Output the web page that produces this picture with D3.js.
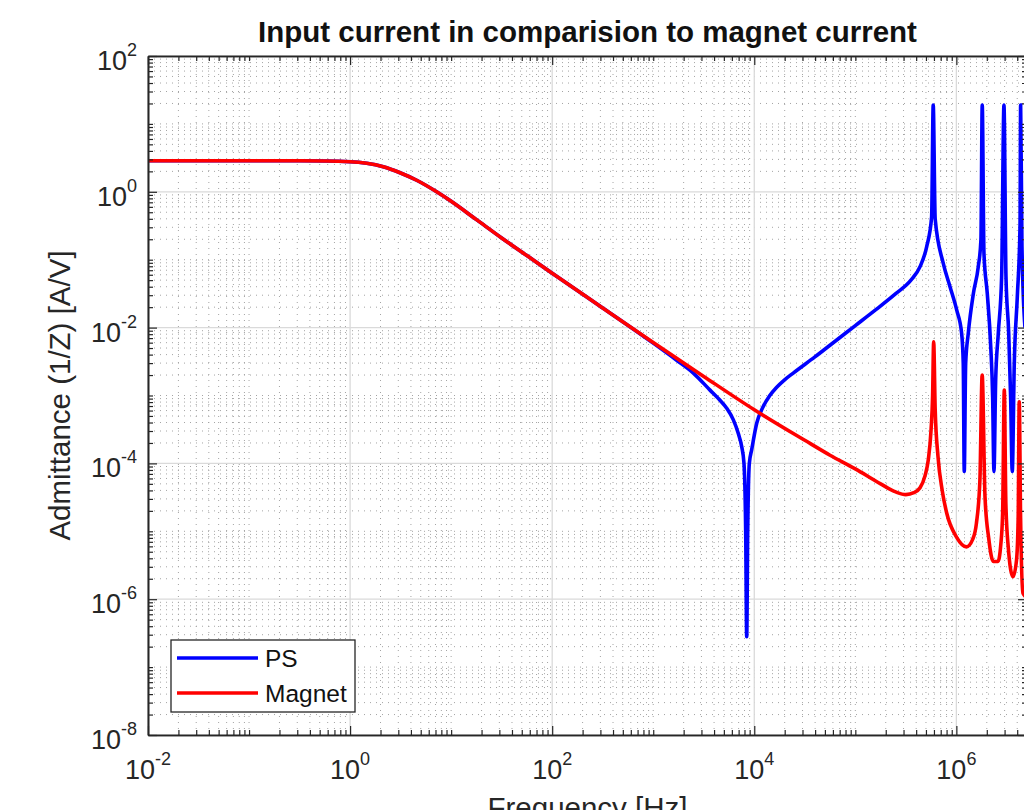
<!DOCTYPE html>
<html>
<head>
<meta charset="utf-8">
<script src="https://cdn.jsdelivr.net/npm/d3@7"></script>
<style>
  html, body { margin: 0; padding: 0; background: #fff; overflow: hidden; }
  svg { display: block; font-family: "Liberation Sans", Arial, Helvetica, sans-serif; }
</style>
</head>
<body>
<svg id="chart"></svg>
<script>
// --- data ---
const magFreq = [0.01, 0.1, 0.316, 1, 1.46, 2.13, 3.12, 4.56, 7.19, 10, 17.8, 31.6, 56.2, 100, 316, 1000, 3162, 1e4, 3.16e4, 5.62e4,
                 1e5, 1.78e5, 2.51e5, 3.16e5, 3.8e5, 4.37e5, 4.9e5, 5.27e5, 5.62e5, 5.82e5, 5.96e5, 6.17e5, 6.58e5, 7.24e5, 8.02e5,
                 1.0e6, 1.26e6, 1.45e6, 1.58e6, 1.71e6, 1.80e6, 1.92e6, 2.09e6, 2.32e6, 2.58e6, 2.75e6, 2.87e6, 2.98e6, 3.09e6,
                 3.26e6, 3.63e6, 3.94e6, 4.09e6, 4.19e6, 4.32e6, 4.56e6, 5.25e6];
const magAdm  = [2.87, 2.87, 2.86, 2.77, 2.63, 2.34, 1.91, 1.48, 1.0, 0.724, 0.389, 0.209, 0.115, 0.063, 0.0195, 6.03e-3, 1.91e-3, 6.17e-4, 2.19e-4, 1.32e-4,
                 8.3e-5, 5.0e-5, 3.8e-5, 3.47e-5, 3.7e-5, 4.37e-5, 6.6e-5, 1.12e-4, 3.16e-4, 1.0e-3, 6.2e-3, 6.3e-4, 1.26e-4, 4.0e-5, 1.86e-5,
                 8.3e-6, 5.9e-6, 7.6e-6, 1.32e-5, 5.75e-5, 2.0e-3, 3.24e-5, 7.9e-6, 3.6e-6, 3.6e-6, 6.3e-6, 1.86e-5, 1.2e-3, 2.5e-5,
                 5.9e-6, 2.14e-6, 3.8e-6, 1.58e-5, 8.1e-4, 1.58e-5, 1.23e-6, 1.0e-6];

const psFreq = [0.01, 0.1, 0.316, 1, 1.46, 2.13, 3.12, 4.56, 7.19, 10, 17.8, 31.6, 56.2, 100, 316, 1000, 1706, 2495, 3648,
                4581, 5333, 6209, 6950, 7499, 7907, 8222, 8414, 8610, 8933, 9419, 1.057e4, 1.227e4, 1.413e4, 1.667e4, 1.995e4, 2.43e4,
                3.98e4, 6.31e4, 1e5, 1.585e5, 2.51e5, 3.55e5, 4.37e5, 5.08e5, 5.69e5, 5.9e5, 6.17e5, 7.41e5, 8.65e5,
                1.007e6, 1.127e6, 1.17e6, 1.197e6, 1.236e6, 1.312e6, 1.472e6, 1.648e6, 1.75e6, 1.803e6, 1.875e6,
                2.023e6, 2.188e6, 2.286e6, 2.355e6, 2.449e6, 2.6e6, 2.805e6, 2.958e6, 3.097e6, 3.296e6, 3.443e6,
                3.573e6, 3.741e6, 4.009e6, 4.266e6, 4.325e6, 4.457e6, 4.775e6];
const psAdm  = [2.87, 2.87, 2.86, 2.77, 2.63, 2.34, 1.91, 1.48, 1.0, 0.724, 0.389, 0.209, 0.115, 0.063, 0.0195, 5.9e-3, 3.3e-3, 2.14e-3, 1.2e-3,
                8.5e-4, 6.5e-4, 4.37e-4, 2.75e-4, 1.78e-4, 1.0e-4, 1.0e-5, 2.8e-7, 1.0e-5, 1.0e-4, 1.58e-4, 3.9e-4, 6.9e-4, 9.8e-4, 1.32e-3, 1.7e-3, 2.14e-3,
                3.7e-3, 6.3e-3, 0.0107, 0.0182, 0.0316, 0.050, 0.079, 0.155, 0.427, 19, 0.40, 0.089, 0.040,
                0.0182, 8.3e-3, 2.95e-3, 7.6e-5, 2.95e-3, 8.3e-3, 0.0316, 0.079, 0.195, 19, 0.124,
                0.0316, 5.25e-3, 9.5e-4, 7.6e-5, 1.7e-3, 8.3e-3, 0.056, 19, 0.056, 8.3e-3, 9.5e-4,
                7.6e-5, 2.95e-3, 0.0285, 0.316, 19, 0.158, 0.01];

const seriesNames  = ["PS", "Magnet"];
const seriesColors = ["#0000ff", "#ff0000"];

const xTickExp = [-2, 0, 2, 4, 6];
const yTickExp = [-8, -6, -4, -2, 0, 2];

// --- layout ---
const W = 1024, H = 810;
const margin = {left: 148, top: 56};
const width = 879, height = 679;

const svg = d3.select("#chart").attr("width", W).attr("height", H);

const x = d3.scaleLog().domain([1e-2, 5e6]).range([0, width]);
const y = d3.scaleLog().domain([1e-8, 1e2]).range([height, 0]);

const xMajor = xTickExp.map(e => Math.pow(10, e));
const yMajor = yTickExp.map(e => Math.pow(10, e));

function minorTicks(scale, majors) {
  const [lo, hi] = scale.domain();
  const out = [];
  for (let e = Math.floor(Math.log10(lo)); e <= Math.ceil(Math.log10(hi)); e++) {
    for (let k = 1; k <= 9; k++) {
      const v = +(k + "e" + e);
      if (v < lo * 0.999 || v > hi * 1.001) continue;
      if (majors.some(m => Math.abs(m - v) / v < 1e-9)) continue;
      out.push(v);
    }
  }
  return out;
}
const xMinor = minorTicks(x, xMajor);
const yMinor = minorTicks(y, yMajor);

const chart = svg.append("g").attr("transform", `translate(${margin.left},${margin.top})`);

chart.append("defs").append("clipPath").attr("id", "clip")
  .append("rect").attr("width", width).attr("height", height);

chart.append("rect").attr("width", width).attr("height", height).attr("fill", "#fff");

// minor grid (dotted)
const grid = chart.append("g");
grid.selectAll(".vmin").data(xMinor).join("line")
  .attr("x1", d => x(d)).attr("x2", d => x(d)).attr("y1", 0).attr("y2", height)
  .attr("stroke", "#a4a4a4").attr("stroke-width", 1).attr("stroke-dasharray", "1,5");
grid.selectAll(".hmin").data(yMinor).join("line")
  .attr("y1", d => y(d)).attr("y2", d => y(d)).attr("x1", 0).attr("x2", width)
  .attr("stroke", "#a4a4a4").attr("stroke-width", 1).attr("stroke-dasharray", "1,5");

// major grid (solid light)
grid.selectAll(".vmaj").data(xMajor).join("line")
  .attr("x1", d => x(d)).attr("x2", d => x(d)).attr("y1", 0).attr("y2", height)
  .attr("stroke", "#dadada").attr("stroke-width", 1.3);
grid.selectAll(".hmaj").data(yMajor).join("line")
  .attr("y1", d => y(d)).attr("y2", d => y(d)).attr("x1", 0).attr("x2", width)
  .attr("stroke", "#dadada").attr("stroke-width", 1.3);

// curves
const line = d3.line()
  .x(d => x(d[0]))
  .y(d => y(d[1]))
  .curve(d3.curveMonotoneX);

const plot = chart.append("g").attr("clip-path", "url(#clip)");
plot.append("path").datum(d3.zip(psFreq, psAdm))
  .attr("d", line).attr("fill", "none")
  .attr("stroke", seriesColors[0]).attr("stroke-width", 3.6);
plot.append("path").datum(d3.zip(magFreq, magAdm))
  .attr("d", line).attr("fill", "none")
  .attr("stroke", seriesColors[1]).attr("stroke-width", 3.6);

// axes with inward ticks on all four sides
const axisColor = "#262626";
function styleAxis(g) {
  g.select(".domain").attr("stroke", axisColor).attr("stroke-width", 1.6);
  g.selectAll(".tick line").attr("stroke", axisColor).attr("stroke-width", 1.2);
  g.selectAll(".tick text").remove();
}
const axes = [
  [d3.axisBottom, x, `translate(0,${height})`],
  [d3.axisTop, x, `translate(0,0)`],
  [d3.axisLeft, y, `translate(0,0)`],
  [d3.axisRight, y, `translate(${width},0)`]
];
axes.forEach(([ax, sc, tr]) => {
  const majors = sc === x ? xMajor : yMajor;
  const minors = sc === x ? xMinor : yMinor;
  chart.append("g").attr("transform", tr)
    .call(ax(sc).tickValues(minors).tickSizeInner(-5).tickSizeOuter(0).tickFormat(""))
    .call(styleAxis);
  chart.append("g").attr("transform", tr)
    .call(ax(sc).tickValues(majors).tickSizeInner(-9).tickSizeOuter(0).tickFormat(""))
    .call(styleAxis);
});

// tick labels as 10^n
const tickFont = 27, supFont = 18;
chart.append("g").selectAll("text").data(xTickExp).join("text")
  .attr("x", d => x(Math.pow(10, d)))
  .attr("y", height + 44)
  .attr("text-anchor", "middle")
  .attr("fill", axisColor)
  .attr("font-size", tickFont)
  .each(function(d) {
    const t = d3.select(this);
    t.append("tspan").text("10");
    t.append("tspan").attr("dy", -14).attr("font-size", supFont).text(d);
  });

chart.append("g").selectAll("text").data(yTickExp).join("text")
  .attr("x", -11)
  .attr("y", d => y(Math.pow(10, d)) + 14)
  .attr("text-anchor", "end")
  .attr("fill", axisColor)
  .attr("font-size", tickFont)
  .each(function(d) {
    const t = d3.select(this);
    t.append("tspan").text("10");
    t.append("tspan").attr("dy", -14).attr("font-size", supFont).text(d);
  });

// title and axis labels
svg.append("text")
  .attr("x", margin.left + width / 2).attr("y", 42)
  .attr("text-anchor", "middle")
  .attr("font-size", 29.5).attr("font-weight", "bold").attr("fill", "#111")
  .text("Input current in comparision to magnet current");

svg.append("text")
  .attr("x", margin.left + width / 2).attr("y", 818)
  .attr("text-anchor", "middle")
  .attr("font-size", 29.5).attr("fill", axisColor)
  .text("Frequency [Hz]");

svg.append("text")
  .attr("transform", `translate(70,${margin.top + height / 2}) rotate(-90)`)
  .attr("text-anchor", "middle")
  .attr("font-size", 29.5).attr("fill", axisColor)
  .text("Admittance (1/Z) [A/V]");

// legend
const legend = svg.append("g").attr("transform", "translate(171,640)");
legend.append("rect")
  .attr("width", 184).attr("height", 72)
  .attr("fill", "#fff").attr("stroke", axisColor).attr("stroke-width", 1.3);
const item = legend.selectAll(".item").data(seriesNames).join("g")
  .attr("transform", (d, i) => `translate(0,${18 + i * 35})`);
item.append("line")
  .attr("x1", 6).attr("x2", 87)
  .attr("stroke", (d, i) => seriesColors[i]).attr("stroke-width", 3.6);
item.append("text")
  .attr("x", 94).attr("y", 9)
  .attr("font-size", 24.5).attr("fill", "#111")
  .text(d => d);
</script>
</body>
</html>
